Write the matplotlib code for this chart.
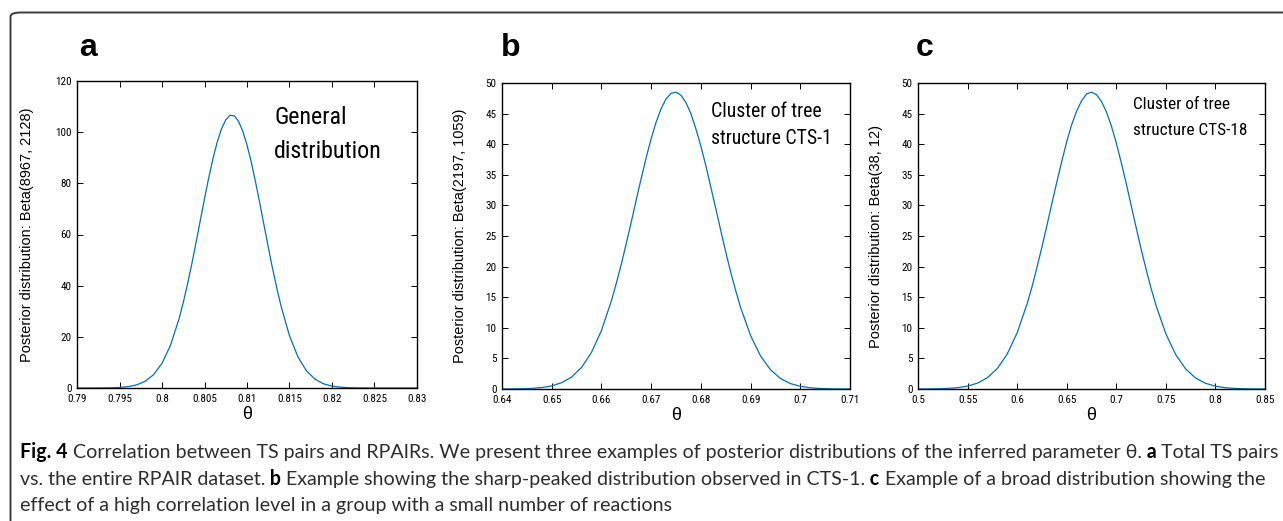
import os
import matplotlib
matplotlib.use("Agg")
import matplotlib.pyplot as plt
from matplotlib.patches import FancyBboxPatch
from matplotlib import font_manager as fm

# ---------------- data ----------------
theta_a = [0.790, 0.792, 0.794, 0.795, 0.796, 0.797, 0.798, 0.799, 0.800, 0.801,
           0.802, 0.8025, 0.803, 0.8035, 0.804, 0.8045, 0.805, 0.8055, 0.806,
           0.8065, 0.807, 0.8075, 0.808, 0.8085, 0.809, 0.8095, 0.810, 0.8105,
           0.811, 0.8115, 0.812, 0.8125, 0.813, 0.8135, 0.814, 0.815, 0.816,
           0.817, 0.818, 0.819, 0.820, 0.821, 0.822, 0.823, 0.825, 0.830]
post_a = [0.0, 0.01, 0.08, 0.21, 0.52, 1.21, 2.59, 5.18, 9.65, 16.7,
          27.0, 33.4, 40.6, 48.4, 56.8, 65.4, 74.0, 82.2, 89.7,
          96.2, 101.3, 104.8, 106.6, 106.4, 104.3, 100.4, 95.0, 88.3,
          80.6, 72.3, 63.7, 55.1, 46.8, 39.1, 32.1, 20.4, 12.1,
          6.70, 3.45, 1.65, 0.74, 0.31, 0.12, 0.04, 0.0, 0.0]

theta_b = [0.640, 0.642, 0.644, 0.646, 0.648, 0.650, 0.652, 0.654, 0.656, 0.658,
           0.660, 0.662, 0.663, 0.664, 0.665, 0.666, 0.667, 0.668, 0.669, 0.670,
           0.671, 0.672, 0.673, 0.674, 0.675, 0.676, 0.677, 0.678, 0.679, 0.680,
           0.681, 0.682, 0.683, 0.684, 0.685, 0.686, 0.687, 0.688, 0.690, 0.692,
           0.694, 0.696, 0.698, 0.700, 0.702, 0.704, 0.706, 0.708, 0.710]
post_b = [0.006, 0.017, 0.043, 0.103, 0.235, 0.506, 1.03, 1.96, 3.52, 5.98,
          9.55, 14.4, 17.3, 20.4, 23.8, 27.3, 30.9, 34.4, 37.8, 40.9,
          43.6, 45.8, 47.4, 48.3, 48.5, 48.0, 46.8, 45.0, 42.5, 39.7,
          36.5, 33.0, 29.5, 25.9, 22.4, 19.1, 16.1, 13.3, 8.74, 5.40,
          3.15, 1.73, 0.89, 0.44, 0.20, 0.087, 0.035, 0.013, 0.005]

theta_c = [0.50, 0.51, 0.52, 0.53, 0.54, 0.55, 0.56, 0.57, 0.58, 0.59, 0.60, 0.61,
           0.615, 0.62, 0.625, 0.63, 0.635, 0.64, 0.645, 0.65, 0.655, 0.66, 0.665,
           0.67, 0.675, 0.68, 0.685, 0.69, 0.695, 0.70, 0.705, 0.71, 0.715, 0.72,
           0.725, 0.73, 0.735, 0.74, 0.75, 0.76, 0.77, 0.78, 0.79, 0.80, 0.81,
           0.82, 0.83, 0.84, 0.85]
post_c = [0.005, 0.015, 0.039, 0.095, 0.218, 0.472, 0.962, 1.85, 3.35, 5.71, 9.18, 13.9,
          16.7, 19.9, 23.2, 26.7, 30.3, 33.8, 37.2, 40.4, 43.2, 45.4, 47.1,
          48.2, 48.5, 48.1, 47.0, 45.3, 43.0, 40.2, 37.0, 33.6, 30.0, 26.4,
          22.9, 19.6, 16.5, 13.7, 9.02, 5.60, 3.27, 1.80, 0.936, 0.458, 0.211,
          0.092, 0.037, 0.014, 0.005]

xticks_a = [0.79, 0.795, 0.8, 0.805, 0.81, 0.815, 0.82, 0.825, 0.83]
xlabels_a = ["0.79", "0.795", "0.8", "0.805", "0.81", "0.815", "0.82", "0.825", "0.83"]
yticks_a = [0, 20, 40, 60, 80, 100, 120]
xticks_b = [0.64, 0.65, 0.66, 0.67, 0.68, 0.69, 0.70, 0.71]
xlabels_b = ["0.64", "0.65", "0.66", "0.67", "0.68", "0.69", "0.7", "0.71"]
xticks_c = [0.50, 0.55, 0.60, 0.65, 0.70, 0.75, 0.80, 0.85]
xlabels_c = ["0.5", "0.55", "0.6", "0.65", "0.7", "0.75", "0.8", "0.85"]
yticks_bc = [0, 5, 10, 15, 20, 25, 30, 35, 40, 45, 50]

ylabels = ["Posterior distribution: Beta(8967, 2128)",
           "Posterior distribution: Beta(2197, 1059)",
           "Posterior distribution: Beta(38, 12)"]
annotations = [["General", "distribution"],
               ["Cluster of tree", "structure CTS-1"],
               ["Cluster of tree", "structure CTS-18"]]
panel_letters = ["a", "b", "c"]

caption_lines = [
    [("Fig. 4", "bold"), (" Correlation between TS pairs and RPAIRs. We present three examples of "
                          "posterior distributions of the inferred parameter \u03b8.", "normal"),
     (" a", "bold"), (" Total TS pairs", "normal")],
    [("vs. the entire RPAIR dataset.", "normal"), (" b", "bold"),
     (" Example showing the sharp-peaked distribution observed in CTS-1.", "normal"),
     (" c", "bold"), (" Example of a broad distribution showing the", "normal")],
    [("effect of a high correlation level in a group with a small number of reactions", "normal")],
]

# ---------------- fonts ----------------
_names = {f.name for f in fm.fontManager.ttflist}
NARROW = ["Roboto Condensed", "Liberation Sans", "DejaVu Sans"] if "Roboto Condensed" in _names \
    else ["Liberation Sans", "DejaVu Sans"]
TICKFONT = ["Liberation Sans", "DejaVu Sans"]
CAPFONT = ["Lato", "DejaVu Sans"]

# ---------------- layout ----------------
W, H = 1283, 521
fig = plt.figure(figsize=(W / 100, H / 100), dpi=100)
fig.patch.set_facecolor("white")
renderer = fig.canvas.get_renderer()


def fx(x):
    return x / W


def fy(y):
    return 1 - y / H


def text_w(s, size, family, weight="normal"):
    t = fig.text(0, 0, s.replace(" ", "\u00a0"), family=family, fontsize=size,
                 fontweight=weight)
    w = t.get_window_extent(renderer).width
    t.remove()
    return w


def fit_size(s, target, family, weight="normal", base=12.0):
    size = base
    for _ in range(3):
        size = size * target / text_w(s, size, family, weight)
    return size


# outer rounded frame
frame = FancyBboxPatch((fx(10.5), fy(600)), 1400 / W, (600 - 12.5) / H,
                       boxstyle="round,pad=0,rounding_size=0.008",
                       transform=fig.transFigure, fill=False,
                       edgecolor="#3c3c3c", linewidth=1.4, clip_on=False)
fig.patches.append(frame)

boxes = [(77, 81, 417, 388), (502, 83, 850, 389), (918, 83, 1265, 389)]
data = [(theta_a, post_a, xticks_a, xlabels_a, yticks_a, (0.79, 0.83), (0, 120)),
        (theta_b, post_b, xticks_b, xlabels_b, yticks_bc, (0.64, 0.71), (0, 50)),
        (theta_c, post_c, xticks_c, xlabels_c, yticks_bc, (0.50, 0.85), (0, 50))]
ylab_offset = [43, 35, 35]
ylab_len = [254, 254, 223]
ann_pos = [(274, 124, 158, 73), (711, 117, 144, 111), (1133, 109, 135, 97)]
letter_x = [79, 501, 916]

tick_size = fit_size("0.795", 25, NARROW)
tick_size = min(max(tick_size, 7.5), 10.0)

for i, ((l, t, r, b), (xs, ys, xt, xl, yt, xlim, ylim)) in enumerate(zip(boxes, data)):
    ax = fig.add_axes([fx(l), fy(b), (r - l) / W, (b - t) / H])
    ax.plot(xs, ys, color="#0072BD", linewidth=0.9)
    ax.set_xlim(*xlim)
    ax.set_ylim(*ylim)
    ax.set_xticks(xt)
    ax.set_xticklabels(xl, family=NARROW)
    ax.set_yticks(yt)
    ax.set_yticklabels([str(v) for v in yt], family=NARROW)
    ax.tick_params(direction="in", top=True, right=True, length=4, width=0.7,
                   labelsize=tick_size, pad=4, colors="black")
    for s in ax.spines.values():
        s.set_linewidth(1.0)
        s.set_color("black")
    ax.set_xlabel("\u03b8", family=TICKFONT, fontsize=13, labelpad=2)
    ysz = fit_size(ylabels[i], ylab_len[i], TICKFONT)
    ax.set_ylabel(ylabels[i], family=TICKFONT, fontsize=ysz)
    ax.yaxis.set_label_coords(-ylab_offset[i] / (r - l), 0.5)
    # annotation
    ax_x, y1, y2, wt = ann_pos[i]
    asz = fit_size(annotations[i][0], wt, NARROW)
    for line, yy in zip(annotations[i], (y1, y2)):
        fig.text(fx(ax_x), fy(yy), line, family=NARROW,
                 fontsize=asz, va="baseline", ha="left")
    # panel letter
    fig.text(fx(letter_x[i]), fy(56), panel_letters[i], family=TICKFONT,
             fontsize=23, fontweight="bold", va="baseline", ha="left")

# ---------------- caption ----------------
line0 = caption_lines[0]
cap_size = 12.0
for _ in range(4):
    natural = sum(text_w(s, cap_size, CAPFONT, wt) for s, wt in line0)
    cap_size = cap_size * (1272 - 20) / natural

baselines = [458, 485, 511]
for line, yb in zip(caption_lines, baselines):
    x = 20.0
    for s, wt in line:
        txt = s.replace(" ", "\u00a0")
        tt = fig.text(fx(x), fy(yb), txt, family=CAPFONT, fontsize=cap_size,
                      fontweight=wt, va="baseline", ha="left",
                      color="black" if wt == "bold" else "#2e2e2e")
        x += tt.get_window_extent(renderer).width

fig.savefig("out.png", dpi=100)
